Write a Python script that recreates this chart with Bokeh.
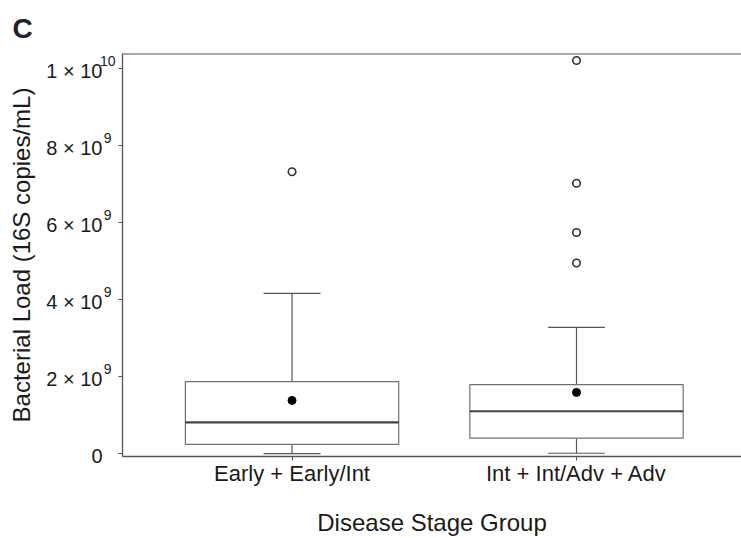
from bokeh.plotting import figure
from bokeh.models import Range1d, FixedTicker, LinearAxis, Span
from bokeh.embed import file_html
from bokeh.resources import INLINE

# ---- data ----
categories = ["Early + Early/Int", "Int + Int/Adv + Adv"]
q1 = [0.25e9, 0.41e9]
median = [0.82e9, 1.11e9]
q3 = [1.88e9, 1.80e9]
whisker_low = [0.01e9, 0.02e9]
whisker_high = [4.17e9, 3.29e9]
means = [1.39e9, 1.60e9]
outlier_group = [0, 1, 1, 1, 1]
outlier_values = [7.33e9, 10.22e9, 7.03e9, 5.75e9, 4.96e9]
y_ticks = [0, 2e9, 4e9, 6e9, 8e9, 1e10]
y_tick_base = ["0", "2 × 10", "4 × 10", "6 × 10", "8 × 10", "1 × 10"]
y_tick_exp = ["", "9", "9", "9", "9", "10"]

xs = [i + 1 for i in range(len(categories))]
ox = [xs[g] for g in outlier_group]

FONT = "Liberation Sans"
AX = "#555555"
TXT = "#1a1a1a"

Y0, Y1 = -0.065e9, 10.4e9
px_per_unit = 403.0 / (Y1 - Y0)  # frame pixels per data unit
exp_shift = 8 / px_per_unit       # raise exponents by ~8 px
base_shift = -2 / px_per_unit     # lower mantissas by ~2 px
NBSP = "\u00a0"

p = figure(width=741, height=538, output_backend="svg", toolbar_location=None,
           x_range=Range1d(0.404, 2.58), y_range=Range1d(Y0, Y1),
           min_border_left=122, min_border_right=0, min_border_top=53,
           min_border_bottom=60)
p.extra_y_ranges = {
    "exp": Range1d(Y0 - exp_shift, Y1 - exp_shift),
    "base": Range1d(Y0 - base_shift, Y1 - base_shift),
}
p.title.text = "C"
p.title.text_font = FONT
p.title.text_font_size = "28px"
p.title.text_font_style = "bold"
p.title.text_color = "#222222"
p.title.align = "left"
p.title.offset = -110
p.title.standoff = 20

p.grid.visible = False
p.outline_line_color = None
p.background_fill_color = "white"
p.border_fill_color = "white"

box_w = 0.75
cap_w = 0.2
# whiskers
p.segment(x0=xs, y0=q3, x1=xs, y1=whisker_high, line_color=AX, line_width=1.2)
p.segment(x0=xs, y0=q1, x1=xs, y1=whisker_low, line_color=AX, line_width=1.2)
p.segment(x0=[x - cap_w / 2 for x in xs], y0=whisker_high,
          x1=[x + cap_w / 2 for x in xs], y1=whisker_high, line_color=AX, line_width=1.2)
p.segment(x0=[x - cap_w / 2 for x in xs], y0=whisker_low,
          x1=[x + cap_w / 2 for x in xs], y1=whisker_low, line_color=AX, line_width=1.2)
# boxes
p.vbar(x=xs, width=box_w, bottom=q1, top=q3, fill_color="white",
       line_color="#707070", line_width=1.2)
# medians
p.segment(x0=[x - box_w / 2 for x in xs], y0=median,
          x1=[x + box_w / 2 for x in xs], y1=median, line_color="#444444", line_width=2.2)
# means
p.scatter(x=xs, y=means, size=8, fill_color="black", line_color="black")
# outliers
p.scatter(x=ox, y=outlier_values, size=7.5, fill_color=None, line_color="#333333",
          line_width=1.6)

# top border of the panel
p.add_layout(Span(location=Y1, dimension="width", line_color=AX, line_width=2.2))

# x axis
xa = p.xaxis[0]
xa.ticker = FixedTicker(ticks=xs)
xa.major_label_overrides = {x: c for x, c in zip(xs, categories)}
xa.axis_line_color = AX
xa.axis_line_width = 1.3
xa.major_tick_line_color = AX
xa.major_tick_out = 4
xa.major_tick_in = 0
xa.minor_tick_line_color = None
xa.major_label_text_font = FONT
xa.major_label_text_font_size = "22px"
xa.major_label_text_color = TXT
xa.major_label_standoff = 0
xa.axis_label = "Disease Stage Group"
xa.axis_label_text_font = FONT
xa.axis_label_text_font_size = "24px"
xa.axis_label_text_font_style = "normal"
xa.axis_label_text_color = TXT
xa.axis_label_standoff = 20

# y axis: inner axis carries the line and ticks
ya = p.yaxis[0]
ya.ticker = FixedTicker(ticks=y_ticks)
ya.major_label_overrides = {float(t): "" for t in y_ticks}
ya.axis_line_color = AX
ya.axis_line_width = 1.3
ya.major_tick_line_color = AX
ya.major_tick_out = 4
ya.major_tick_in = 0
ya.minor_tick_line_color = None
ya.major_label_standoff = 0
ya.major_label_text_font_size = "1px"

# exponents (superscripts), raised slightly
exp_axis = LinearAxis(y_range_name="exp", ticker=FixedTicker(ticks=y_ticks),
                      major_label_overrides={float(t): (e + NBSP if len(e) == 1 else e)
                                             for t, e in zip(y_ticks, y_tick_exp)},
                      axis_line_color=None, major_tick_line_color=None,
                      minor_tick_line_color=None, major_label_standoff=-3,
                      major_label_text_font=FONT, major_label_text_font_size="14px",
                      major_label_text_color=TXT)
p.add_layout(exp_axis, "left")

# mantissa "n × 10" parts
base_axis = LinearAxis(y_range_name="base", ticker=FixedTicker(ticks=y_ticks),
                       major_label_overrides={float(t): b for t, b in zip(y_ticks, y_tick_base)},
                       axis_line_color=None, major_tick_line_color=None,
                       minor_tick_line_color=None, major_label_standoff=-12,
                       major_label_text_font=FONT, major_label_text_font_size="20px",
                       major_label_text_color=TXT,
                       axis_label="Bacterial Load (16S copies/mL)",
                       axis_label_text_font=FONT, axis_label_text_font_size="24px",
                       axis_label_text_font_style="normal", axis_label_text_color=TXT,
                       axis_label_standoff=8)
p.add_layout(base_axis, "left")

open("out.html", "w").write(file_html(p, INLINE))
